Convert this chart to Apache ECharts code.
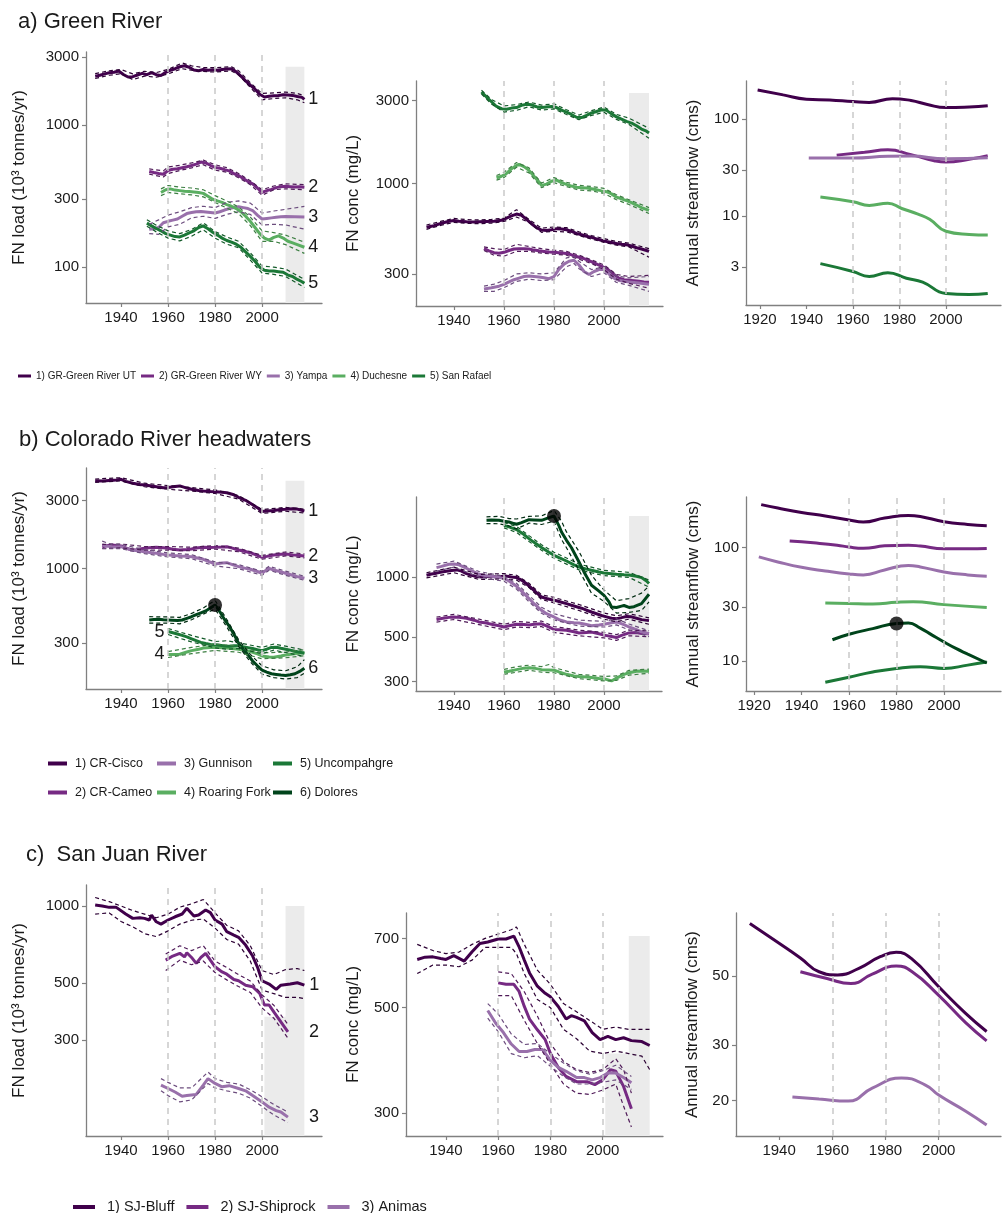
<!DOCTYPE html>
<html><head><meta charset="utf-8">
<script src="https://cdn.jsdelivr.net/npm/echarts@6/dist/echarts.min.js"></script>
<style>html,body{margin:0;padding:0;background:#fff}#c{width:1006px;height:1213px}</style>
</head><body><div id="c"></div>
<script>
// ---------------- tick labels / categories ----------------
const xTicks4 = [1940, 1960, 1980, 2000];
const xTicks5 = [1920, 1940, 1960, 1980, 2000];
const refYears = [1960, 1980, 2000];
const yTicksA1 = [100, 300, 1000, 3000];
const yTicksA2 = [300, 1000, 3000];
const yTicksA3 = [3, 10, 30, 100];
const yTicksB1 = [300, 1000, 3000];
const yTicksB2 = [300, 500, 1000];
const yTicksB3 = [10, 30, 100];
const yTicksC1 = [300, 500, 1000];
const yTicksC2 = [300, 500, 700];
const yTicksC3 = [20, 30, 50];
const namesA = ['1) GR-Green River UT', '2) GR-Green River WY', '3) Yampa', '4) Duchesne', '5) San Rafael'];
const namesB = ['1) CR-Cisco', '2) CR-Cameo', '3) Gunnison', '4) Roaring Fork', '5) Uncompahgre', '6) Dolores'];
const namesC = ['1) SJ-Bluff', '2) SJ-Shiprock', '3) Animas'];

// ---------------- a) Green River : load ----------------
const grUT_load = [[1929,2200],[1931,2230],[1933,2280],[1935,2320],[1937,2340],[1939,2390],[1941,2260],[1943,2170],[1945,2180],[1947,2240],[1949,2300],[1951,2250],[1953,2330],[1955,2250],[1957,2220],[1959,2340],[1961,2420],[1963,2480],[1965,2560],[1967,2600],[1969,2540],[1971,2430],[1973,2400],[1975,2450],[1977,2420],[1979,2440],[1981,2420],[1983,2450],[1985,2470],[1987,2480],[1989,2360],[1991,2200],[1993,2040],[1995,1900],[1997,1780],[1999,1640],[2001,1570],[2003,1590],[2005,1600],[2007,1610],[2009,1630],[2011,1620],[2013,1610],[2015,1580],[2017,1560],[2018,1510]];
const grUT_load_hi = [[1929,2290],[1935,2400],[1940,2450],[1945,2280],[1950,2380],[1955,2330],[1960,2450],[1966,2720],[1970,2600],[1975,2530],[1980,2520],[1987,2560],[1990,2400],[1995,1980],[2000,1660],[2005,1680],[2010,1700],[2015,1660],[2018,1600]];
const grUT_load_lo = [[1929,2120],[1935,2230],[1940,2290],[1945,2080],[1950,2200],[1955,2160],[1960,2280],[1966,2480],[1970,2420],[1975,2370],[1980,2350],[1987,2390],[1990,2250],[1995,1830],[2000,1500],[2005,1530],[2010,1550],[2015,1500],[2018,1430]];
const grWY_load = [[1952,470],[1954,462],[1956,455],[1958,450],[1960,478],[1962,488],[1964,492],[1966,500],[1968,508],[1970,518],[1972,530],[1974,548],[1976,540],[1978,520],[1980,502],[1982,495],[1984,485],[1986,475],[1988,455],[1990,440],[1992,420],[1994,400],[1996,385],[1998,360],[2000,335],[2002,345],[2004,352],[2006,362],[2008,368],[2010,370],[2012,368],[2014,366],[2016,368],[2018,365]];
const grWY_load_hi = [[1952,490],[1958,475],[1960,505],[1965,520],[1970,540],[1975,565],[1980,525],[1985,500],[1990,455],[1995,405],[2000,350],[2005,372],[2010,385],[2018,380]];
const grWY_load_lo = [[1952,450],[1958,430],[1960,455],[1965,478],[1970,498],[1975,525],[1980,480],[1985,465],[1990,425],[1995,380],[2000,320],[2005,350],[2010,355],[2018,350]];
const yampa_load = [[1952,185],[1954,186],[1956,190],[1958,205],[1960,210],[1962,214],[1964,218],[1966,228],[1968,238],[1970,242],[1972,245],[1974,246],[1976,244],[1978,242],[1980,240],[1982,245],[1984,252],[1986,258],[1988,262],[1990,266],[1992,262],[1994,258],[1996,250],[1998,232],[2000,218],[2002,220],[2004,222],[2006,224],[2008,226],[2010,227],[2014,226],[2018,225]];
const yampa_load_hi = [[1952,200],[1956,215],[1960,232],[1965,245],[1970,262],[1975,268],[1980,262],[1985,285],[1990,292],[1995,282],[2000,240],[2005,248],[2010,255],[2018,267]];
const yampa_load_lo = [[1952,172],[1956,170],[1960,192],[1965,200],[1970,222],[1975,228],[1980,220],[1985,235],[1990,245],[1995,235],[2000,198],[2005,200],[2010,198],[2018,185]];
const duchesne_load = [[1957,335],[1959,350],[1961,355],[1963,348],[1965,345],[1967,342],[1969,340],[1971,338],[1973,335],[1975,330],[1977,315],[1979,300],[1981,292],[1983,285],[1985,275],[1987,268],[1989,258],[1991,245],[1993,228],[1995,210],[1997,190],[1999,172],[2001,160],[2003,155],[2005,162],[2007,166],[2009,160],[2011,152],[2013,148],[2015,144],[2018,138]];
const duchesne_load_hi = [[1957,355],[1960,375],[1965,365],[1970,360],[1975,350],[1980,318],[1985,292],[1990,265],[1995,225],[2000,180],[2005,175],[2010,168],[2018,150]];
const duchesne_load_lo = [[1957,318],[1960,335],[1965,328],[1970,322],[1975,312],[1980,285],[1985,260],[1990,238],[1995,196],[2000,152],[2005,152],[2010,144],[2018,125]];
const sanRafael_load = [[1951,204],[1953,195],[1955,187],[1957,180],[1959,172],[1961,168],[1963,164],[1965,163],[1967,168],[1969,174],[1971,180],[1973,190],[1975,195],[1977,186],[1979,176],[1981,168],[1983,160],[1985,154],[1987,150],[1989,145],[1991,138],[1993,128],[1995,119],[1997,110],[1999,100],[2001,95],[2003,94],[2005,94],[2007,93],[2009,92],[2011,88],[2013,86],[2015,82],[2017,79],[2018,77]];
const sanRafael_load_hi = [[1951,215],[1955,197],[1960,180],[1965,172],[1970,184],[1975,205],[1980,178],[1985,163],[1990,152],[1995,126],[2000,102],[2005,100],[2010,97],[2018,82]];
const sanRafael_load_lo = [[1951,194],[1955,177],[1960,160],[1965,153],[1970,165],[1975,183],[1980,160],[1985,145],[1990,137],[1995,112],[2000,91],[2005,89],[2010,86],[2018,72]];

// ---------------- a) Green River : concentration ----------------
const grUT_conc = [[1929,558],[1932,570],[1935,589],[1938,605],[1940,611],[1942,605],[1945,600],[1948,598],[1950,600],[1953,603],[1956,605],[1959,612],[1961,630],[1963,650],[1965,665],[1967,655],[1969,620],[1971,585],[1973,555],[1975,538],[1977,535],[1979,540],[1981,548],[1983,545],[1985,540],[1987,528],[1989,515],[1991,505],[1993,495],[1995,488],[1997,478],[1999,470],[2001,462],[2003,456],[2005,450],[2007,445],[2009,442],[2011,435],[2013,425],[2015,418],[2017,410],[2018,405]];
const grUT_conc_hi = [[1929,575],[1935,605],[1940,628],[1945,618],[1950,615],[1955,620],[1960,630],[1965,705],[1970,620],[1975,552],[1980,560],[1985,555],[1990,525],[1995,500],[2000,480],[2005,462],[2010,452],[2018,420]];
const grUT_conc_lo = [[1929,543],[1935,574],[1940,596],[1945,588],[1950,585],[1955,590],[1960,603],[1965,640],[1970,595],[1975,522],[1980,528],[1985,525],[1990,500],[1995,477],[2000,457],[2005,440],[2010,430],[2018,375]];
const grWY_conc = [[1952,420],[1954,408],[1956,398],[1958,395],[1960,400],[1962,410],[1964,418],[1966,420],[1968,420],[1970,418],[1972,412],[1974,408],[1976,405],[1978,402],[1980,400],[1982,398],[1984,395],[1986,392],[1988,382],[1990,375],[1992,368],[1994,358],[1996,348],[1998,338],[2000,328],[2002,315],[2004,298],[2006,284],[2008,278],[2010,276],[2012,274],[2014,272],[2016,270],[2018,269]];
const grWY_conc_hi = [[1952,430],[1956,420],[1960,415],[1965,445],[1970,432],[1975,420],[1980,412],[1985,405],[1990,385],[1995,362],[2000,338],[2005,298],[2010,290],[2018,295]];
const grWY_conc_lo = [[1952,410],[1956,385],[1960,380],[1965,405],[1970,405],[1975,396],[1980,390],[1985,385],[1990,365],[1995,345],[2000,318],[2005,280],[2010,265],[2018,248]];
const yampa_conc = [[1952,246],[1955,250],[1958,255],[1960,261],[1962,270],[1964,278],[1966,284],[1968,290],[1970,292],[1972,290],[1974,288],[1976,285],[1978,282],[1980,290],[1982,320],[1984,342],[1986,355],[1988,360],[1990,338],[1992,310],[1994,298],[1996,310],[1998,318],[2000,318],[2002,300],[2004,284],[2006,275],[2008,272],[2010,270],[2014,266],[2018,262]];
const yampa_conc_hi = [[1952,255],[1956,262],[1960,275],[1965,300],[1970,305],[1975,300],[1980,305],[1985,372],[1988,378],[1990,355],[1995,318],[2000,330],[2005,292],[2010,285],[2018,290]];
const yampa_conc_lo = [[1952,238],[1956,238],[1960,250],[1965,272],[1970,280],[1975,275],[1980,278],[1985,330],[1988,345],[1990,322],[1995,290],[2000,305],[2005,268],[2010,258],[2018,238]];
const duchesne_conc = [[1957,1078],[1959,1100],[1961,1140],[1963,1216],[1965,1270],[1966,1288],[1968,1250],[1970,1189],[1972,1100],[1974,1020],[1975,974],[1977,990],[1979,1030],[1981,1045],[1983,1010],[1985,987],[1987,965],[1989,950],[1991,945],[1993,940],[1995,932],[1997,920],[1999,905],[2001,895],[2003,870],[2005,833],[2007,815],[2009,795],[2011,775],[2013,750],[2015,725],[2018,698]];
const duchesne_conc_hi = [[1957,1110],[1960,1160],[1965,1320],[1970,1230],[1975,1005],[1980,1080],[1985,1015],[1990,975],[1995,960],[2000,935],[2005,860],[2010,805],[2018,725]];
const duchesne_conc_lo = [[1957,1045],[1960,1080],[1965,1240],[1970,1150],[1975,945],[1980,1010],[1985,958],[1990,915],[1995,905],[2000,875],[2005,805],[2010,755],[2018,670]];
const sanRafael_conc = [[1951,3370],[1953,3150],[1955,2960],[1957,2780],[1959,2700],[1961,2680],[1963,2720],[1965,2740],[1967,2820],[1969,2860],[1971,2840],[1973,2770],[1975,2740],[1977,2760],[1979,2780],[1981,2740],[1983,2650],[1985,2580],[1987,2500],[1989,2410],[1991,2400],[1993,2470],[1995,2550],[1997,2600],[1999,2660],[2001,2640],[2003,2520],[2005,2420],[2007,2350],[2009,2280],[2011,2230],[2013,2150],[2015,2060],[2017,2000],[2018,1953]];
const sanRafael_conc_hi = [[1951,3450],[1955,3050],[1960,2800],[1965,2850],[1970,2950],[1975,2830],[1980,2880],[1985,2660],[1990,2480],[1995,2630],[2000,2760],[2005,2500],[2010,2380],[2018,2080]];
const sanRafael_conc_lo = [[1951,3280],[1955,2870],[1960,2580],[1965,2640],[1970,2770],[1975,2650],[1980,2690],[1985,2500],[1990,2330],[1995,2470],[2000,2570],[2005,2340],[2010,2190],[2018,1820]];

// ---------------- a) Green River : streamflow ----------------
const grUT_flow = [[1919,199],[1930,177],[1940,160],[1950,157],[1960,151],[1967,148],[1977,162],[1985,155],[1992,141],[2000,131],[2010,133],[2018,137]];
const grWY_flow = [[1953,42.5],[1965,45.4],[1975,48.2],[1985,43],[1995,37.2],[2000,36],[2010,38.5],[2018,42]];
const yampa_flow = [[1941,39.6],[1960,39.6],[1975,41.3],[1985,41.5],[2000,39],[2018,40]];
const duchesne_flow = [[1946,15.8],[1960,14.1],[1967,12.9],[1975,13.6],[1981,12],[1988,10.5],[1993,9.3],[2000,7.0],[2010,6.5],[2018,6.4]];
const sanRafael_flow = [[1946,3.25],[1960,2.7],[1967,2.4],[1975,2.62],[1983,2.3],[1990,2.1],[2000,1.6],[2010,1.56],[2018,1.6]];

// ---------------- b) Colorado River headwaters : load ----------------
const cisco_load = [[1929,4150],[1932,4120],[1935,4160],[1938,4200],[1940,4240],[1942,4100],[1945,3980],[1948,3900],[1950,3870],[1953,3800],[1955,3760],[1958,3700],[1960,3720],[1963,3780],[1965,3810],[1968,3680],[1970,3610],[1973,3540],[1975,3510],[1978,3480],[1980,3470],[1983,3440],[1985,3410],[1988,3300],[1990,3170],[1993,3020],[1995,2880],[1998,2680],[2000,2520],[2002,2540],[2005,2560],[2008,2600],[2010,2610],[2013,2630],[2015,2620],[2018,2540]];
const cisco_load_hi = [[1929,4260],[1940,4350],[1950,3980],[1960,3830],[1970,3710],[1980,3570],[1990,3260],[2000,2600],[2010,2690],[2018,2620]];
const cisco_load_lo = [[1929,4040],[1940,4130],[1950,3760],[1960,3610],[1970,3510],[1980,3370],[1990,3080],[2000,2440],[2010,2530],[2018,2460]];
const cameo_load = [[1932,1427],[1934,1450],[1936,1467],[1938,1455],[1940,1443],[1942,1400],[1944,1360],[1946,1350],[1948,1375],[1950,1390],[1952,1400],[1955,1413],[1958,1400],[1960,1390],[1962,1370],[1965,1353],[1968,1365],[1970,1374],[1972,1395],[1975,1413],[1978,1410],[1980,1413],[1983,1420],[1985,1427],[1987,1400],[1990,1353],[1992,1330],[1995,1295],[1998,1240],[2000,1202],[2002,1220],[2005,1248],[2008,1262],[2010,1268],[2013,1250],[2015,1240],[2018,1228]];
const cameo_load_hi = [[1932,1480],[1940,1490],[1950,1430],[1960,1430],[1970,1415],[1980,1455],[1990,1395],[2000,1240],[2010,1310],[2018,1270]];
const cameo_load_lo = [[1932,1380],[1940,1400],[1950,1350],[1960,1350],[1970,1335],[1980,1372],[1990,1315],[2000,1165],[2010,1230],[2018,1190]];
const gunnison_load = [[1932,1467],[1934,1440],[1936,1427],[1938,1420],[1940,1427],[1942,1390],[1945,1353],[1948,1330],[1950,1316],[1953,1295],[1955,1282],[1958,1260],[1960,1248],[1963,1235],[1965,1228],[1968,1220],[1970,1214],[1973,1185],[1975,1164],[1978,1110],[1980,1079],[1983,1095],[1985,1102],[1988,1060],[1990,1033],[1993,1005],[1995,990],[1998,955],[2000,928],[2002,985],[2003,1006],[2005,979],[2008,950],[2010,928],[2013,900],[2015,880],[2018,856]];
const gunnison_load_hi = [[1932,1560],[1936,1480],[1940,1480],[1950,1360],[1960,1290],[1970,1255],[1980,1115],[1990,1068],[2000,960],[2003,1040],[2010,960],[2018,885]];
const gunnison_load_lo = [[1932,1390],[1936,1380],[1940,1380],[1950,1275],[1960,1208],[1970,1175],[1980,1045],[1990,1000],[2000,898],[2003,975],[2010,898],[2018,828]];
const roaringFork_load = [[1960,250],[1963,250],[1965,251],[1968,260],[1970,266],[1973,272],[1975,277],[1978,280],[1980,281],[1983,279],[1985,277],[1988,274],[1990,272],[1993,266],[1995,262],[1998,252],[2000,244],[2003,240],[2005,239],[2008,244],[2010,248],[2013,252],[2015,255],[2018,257]];
const roaringFork_load_hi = [[1960,262],[1970,280],[1980,296],[1990,286],[2000,256],[2010,260],[2018,270]];
const roaringFork_load_lo = [[1960,238],[1970,253],[1980,267],[1990,259],[2000,233],[2010,237],[2018,245]];
const uncompahgre_load = [[1960,362],[1962,355],[1964,348],[1966,340],[1968,332],[1970,322],[1972,312],[1974,304],[1976,298],[1978,294],[1980,292],[1982,290],[1984,287],[1986,285],[1988,288],[1990,288],[1992,283],[1994,279],[1996,275],[1998,270],[2000,266],[2002,272],[2004,280],[2006,281],[2008,276],[2010,272],[2012,268],[2014,263],[2016,259],[2018,255]];
const uncompahgre_load_hi = [[1960,380],[1970,340],[1980,308],[1985,312],[1990,302],[2000,280],[2005,296],[2010,286],[2018,268]];
const uncompahgre_load_lo = [[1960,345],[1970,306],[1980,278],[1985,272],[1990,275],[2000,253],[2005,268],[2010,258],[2018,242]];
const dolores_load = [[1952,436],[1954,440],[1956,441],[1958,438],[1960,436],[1962,434],[1964,432],[1966,436],[1968,448],[1970,460],[1972,475],[1974,490],[1976,505],[1978,530],[1980,556],[1982,500],[1984,440],[1986,395],[1988,348],[1990,300],[1992,272],[1994,248],[1996,225],[1998,208],[2000,194],[2002,188],[2004,183],[2006,181],[2008,179],[2010,178],[2012,180],[2014,183],[2016,190],[2018,200]];
const dolores_load_hi = [[1952,460],[1960,458],[1965,455],[1970,485],[1975,530],[1980,600],[1985,440],[1990,318],[1995,250],[2000,208],[2005,195],[2010,192],[2015,205],[2018,230]];
const dolores_load_lo = [[1952,415],[1960,415],[1965,410],[1970,438],[1975,480],[1980,520],[1985,390],[1990,285],[1995,222],[2000,182],[2005,172],[2010,168],[2015,172],[2018,185]];
const dolores_peak_load = [[1980,556]];

// ---------------- b) Colorado River headwaters : concentration ----------------
const cisco_conc = [[1929,1020],[1931,1035],[1933,1045],[1935,1059],[1937,1068],[1939,1078],[1941,1085],[1943,1070],[1945,1040],[1947,1020],[1949,1005],[1951,1000],[1953,1005],[1955,1008],[1957,1000],[1959,1005],[1961,1010],[1963,1000],[1965,993],[1967,965],[1969,925],[1971,880],[1973,835],[1975,794],[1977,780],[1979,770],[1981,760],[1983,748],[1985,736],[1987,722],[1989,710],[1991,698],[1993,682],[1995,668],[1997,655],[1999,642],[2001,632],[2003,622],[2005,619],[2007,626],[2009,634],[2011,632],[2013,622],[2015,612],[2018,605]];
const cisco_conc_hi = [[1929,1050],[1940,1120],[1950,1030],[1960,1040],[1965,1020],[1970,930],[1975,815],[1980,790],[1990,728],[2000,660],[2005,640],[2010,655],[2018,625]];
const cisco_conc_lo = [[1929,990],[1940,1050],[1950,972],[1960,978],[1965,965],[1970,885],[1975,772],[1980,742],[1990,680],[2000,615],[2005,598],[2010,615],[2018,580]];
const cameo_conc = [[1933,612],[1935,620],[1938,628],[1940,631],[1942,628],[1945,622],[1948,608],[1950,596],[1953,588],[1955,580],[1958,570],[1960,562],[1962,570],[1965,580],[1968,578],[1970,575],[1972,580],[1975,583],[1977,570],[1980,546],[1982,545],[1985,541],[1988,532],[1990,525],[1993,528],[1995,530],[1998,520],[2000,512],[2003,504],[2005,498],[2007,510],[2010,525],[2013,528],[2015,522],[2018,520]];
const cameo_conc_hi = [[1933,630],[1940,650],[1950,615],[1960,580],[1965,600],[1970,593],[1975,602],[1980,565],[1990,542],[2000,528],[2005,515],[2010,542],[2018,538]];
const cameo_conc_lo = [[1933,595],[1940,613],[1950,578],[1960,545],[1965,562],[1970,558],[1975,565],[1980,528],[1990,508],[2000,496],[2005,482],[2010,508],[2018,503]];
const gunnison_conc = [[1933,1114],[1935,1130],[1938,1157],[1940,1160],[1942,1150],[1944,1120],[1946,1090],[1948,1060],[1950,1031],[1953,1015],[1955,1008],[1958,995],[1960,981],[1962,955],[1965,899],[1967,850],[1970,780],[1972,735],[1975,681],[1977,655],[1980,631],[1982,612],[1985,596],[1988,590],[1990,588],[1993,578],[1995,571],[1998,575],[2000,580],[2003,590],[2005,596],[2008,578],[2010,562],[2013,545],[2015,532],[2018,520]];
const gunnison_conc_hi = [[1933,1160],[1940,1200],[1950,1065],[1960,1010],[1965,930],[1970,810],[1975,705],[1980,655],[1990,608],[2000,600],[2005,618],[2010,582],[2018,538]];
const gunnison_conc_lo = [[1933,1070],[1940,1120],[1950,1000],[1960,952],[1965,870],[1970,752],[1975,658],[1980,610],[1990,568],[2000,562],[2005,576],[2010,543],[2018,503]];
const roaringFork_conc = [[1960,335],[1962,338],[1965,344],[1968,350],[1970,352],[1972,350],[1975,344],[1978,343],[1980,342],[1982,335],[1985,326],[1988,320],[1990,318],[1993,316],[1995,314],[1998,311],[2000,310],[2002,305],[2003,302],[2005,312],[2008,326],[2010,332],[2013,338],[2015,339],[2018,338]];
const roaringFork_conc_hi = [[1960,345],[1965,356],[1970,362],[1975,356],[1978,365],[1980,352],[1990,326],[2000,318],[2005,320],[2010,341],[2018,346]];
const roaringFork_conc_lo = [[1960,326],[1965,334],[1970,342],[1975,334],[1980,332],[1990,310],[2000,302],[2005,304],[2010,323],[2018,330]];
const uncompahgre_conc = [[1960,1812],[1962,1780],[1965,1726],[1968,1630],[1970,1555],[1972,1490],[1975,1403],[1978,1330],[1980,1284],[1982,1250],[1985,1202],[1988,1150],[1990,1122],[1993,1095],[1995,1080],[1998,1060],[2000,1047],[2003,1038],[2005,1031],[2008,1026],[2010,1024],[2013,1008],[2015,993],[2017,955],[2018,927]];
const uncompahgre_conc_hi = [[1960,1870],[1965,1790],[1970,1610],[1975,1450],[1980,1330],[1985,1245],[1990,1160],[2000,1080],[2010,1055],[2018,965]];
const uncompahgre_conc_lo = [[1960,1760],[1965,1670],[1970,1505],[1975,1360],[1980,1240],[1985,1160],[1990,1085],[2000,1015],[2010,995],[2018,890]];
const dolores_conc = [[1953,1921],[1955,1925],[1958,1921],[1960,1900],[1962,1883],[1964,1850],[1965,1835],[1967,1870],[1970,1935],[1972,1930],[1975,1921],[1978,1982],[1980,2017],[1982,1800],[1983,1679],[1985,1525],[1987,1400],[1990,1189],[1992,1060],[1995,909],[1998,850],[2000,810],[2002,750],[2003,708],[2005,704],[2007,715],[2008,720],[2010,704],[2012,710],[2015,736],[2018,820]];
const dolores_conc_hi = [[1953,2000],[1958,2010],[1962,1960],[1965,1950],[1970,2010],[1975,2020],[1980,2150],[1983,1900],[1985,1680],[1990,1340],[1995,1020],[2000,860],[2005,760],[2010,780],[2015,830],[2018,900]];
const dolores_conc_lo = [[1953,1850],[1958,1845],[1962,1800],[1965,1740],[1970,1860],[1975,1830],[1980,1900],[1983,1540],[1985,1400],[1990,1080],[1995,830],[2000,755],[2005,660],[2010,665],[2015,680],[2018,750]];
const dolores_peak_conc = [[1980,2017]];

// ---------------- b) Colorado River headwaters : streamflow ----------------
const cisco_flow = [[1923,239],[1930,223],[1940,204],[1950,190],[1960,175],[1966,168],[1975,182],[1985,192],[1990,188],[2000,169],[2010,160],[2018,156]];
const cameo_flow = [[1935,114],[1945,110],[1955,105],[1960,101],[1966,98.5],[1975,103.5],[1985,105],[1990,103],[2000,97.5],[2010,97.5],[2018,98]];
const gunnison_flow = [[1922,82.7],[1930,74.7],[1940,67],[1950,62.2],[1960,58.5],[1966,57.4],[1975,63.5],[1985,69.5],[1990,67.5],[2000,61],[2010,57.4],[2018,55.9]];
const roaringFork_flow = [[1950,32.5],[1960,32.1],[1970,31.8],[1980,32.9],[1987,33.3],[2000,31.4],[2018,29.6]];
const uncompahgre_flow = [[1950,6.5],[1960,7.2],[1970,8.0],[1980,8.6],[1990,8.9],[2000,8.6],[2010,9.2],[2018,9.8]];
const dolores_flow = [[1953,15.4],[1960,17.2],[1970,19.3],[1980,21.4],[1985,21.6],[1990,19.5],[1995,16.9],[2000,14.7],[2005,12.9],[2010,11.5],[2018,9.6]];
const dolores_peak_flow = [[1980,21.4]];

// ---------------- c) San Juan River : load ----------------
const bluff_load = [[1929,1009],[1932,1000],[1935,988],[1938,988],[1942,931],[1945,895],[1948,900],[1950,895],[1952,882],[1953,922],[1955,868],[1957,850],[1960,882],[1963,908],[1966,931],[1968,980],[1971,914],[1973,922],[1976,965],[1978,942],[1980,882],[1983,850],[1985,794],[1988,770],[1990,755],[1993,704],[1996,638],[1998,579],[2000,511],[2003,496],[2006,473],[2008,491],[2012,496],[2015,502],[2018,491]];
const bluff_load_hi = [[1929,1080],[1935,1040],[1940,1000],[1945,960],[1950,930],[1955,900],[1960,930],[1965,990],[1970,1020],[1975,1060],[1980,940],[1985,840],[1990,800],[1995,700],[2000,560],[2005,540],[2010,565],[2015,570],[2018,560]];
const bluff_load_lo = [[1929,930],[1935,940],[1940,870],[1945,830],[1950,780],[1955,760],[1960,800],[1965,850],[1970,880],[1975,890],[1980,820],[1985,740],[1990,710],[1995,610],[2000,470],[2005,455],[2010,440],[2015,440],[2018,435]];
const shiprock_load = [[1959,615],[1962,638],[1965,654],[1967,633],[1968,657],[1970,630],[1972,597],[1974,630],[1976,654],[1978,615],[1980,579],[1983,553],[1985,542],[1988,517],[1990,511],[1993,491],[1996,484],[1999,456],[2001,411],[2003,411],[2005,386],[2008,353],[2011,323]];
const shiprock_load_hi = [[1959,650],[1965,700],[1970,670],[1975,700],[1980,610],[1985,575],[1990,540],[1995,510],[2000,450],[2005,410],[2011,345]];
const shiprock_load_lo = [[1959,560],[1965,615],[1970,590],[1975,610],[1980,550],[1985,515],[1990,485],[1995,460],[2000,400],[2005,365],[2011,305]];
const animas_load = [[1957,200],[1960,194],[1963,188],[1966,181],[1968,182],[1972,184],[1975,200],[1977,212],[1980,203],[1983,197],[1986,199],[1990,194],[1993,190],[1996,182],[2000,172],[2003,164],[2006,159],[2008,157],[2011,150]];
const animas_load_hi = [[1957,212],[1960,205],[1965,195],[1970,195],[1977,225],[1980,212],[1985,205],[1990,202],[1995,192],[2000,180],[2005,168],[2011,157]];
const animas_load_lo = [[1957,190],[1960,182],[1965,172],[1970,175],[1977,203],[1980,195],[1985,190],[1990,186],[1995,178],[2000,165],[2005,153],[2011,143]];

// ---------------- c) San Juan River : concentration ----------------
const bluff_conc = [[1929,632],[1932,639],[1935,640],[1938,635],[1940,632],[1943,644],[1947,627],[1950,656],[1953,683],[1956,688],[1960,698],[1963,698],[1966,708],[1968,672],[1970,630],[1972,592],[1975,555],[1978,536],[1980,527],[1983,503],[1986,473],[1988,481],[1990,477],[1993,469],[1996,443],[1999,428],[2002,435],[2005,428],[2008,432],[2011,426],[2015,424],[2018,416]];
const bluff_conc_hi = [[1929,680],[1935,660],[1940,650],[1945,655],[1950,680],[1955,700],[1960,715],[1965,730],[1967,740],[1970,680],[1975,600],[1980,560],[1985,510],[1990,490],[1995,470],[2000,450],[2005,455],[2010,450],[2015,450],[2018,450]];
const bluff_conc_lo = [[1929,590],[1935,615],[1940,615],[1945,610],[1950,630],[1955,670],[1960,670],[1965,670],[1967,650],[1970,590],[1975,520],[1980,500],[1985,450],[1990,430],[1995,405],[2000,400],[2005,405],[2010,400],[2015,395],[2018,370]];
const shiprock_conc = [[1960,564],[1963,560],[1966,560],[1968,541],[1970,503],[1972,473],[1975,449],[1978,428],[1980,400],[1983,374],[1986,358],[1990,349],[1994,349],[1997,344],[2000,352],[2003,370],[2005,367],[2008,341],[2011,306]];
const shiprock_conc_hi = [[1960,595],[1965,590],[1970,540],[1975,480],[1980,420],[1985,385],[1990,370],[1995,365],[2000,370],[2005,390],[2008,370],[2011,330]];
const shiprock_conc_lo = [[1960,530],[1965,530],[1970,470],[1975,420],[1980,380],[1985,345],[1990,330],[1995,328],[2000,335],[2005,345],[2008,310],[2011,280]];
const animas_conc = [[1956,493],[1959,464],[1962,443],[1965,419],[1968,404],[1971,404],[1974,408],[1977,408],[1980,387],[1983,374],[1986,367],[1990,356],[1993,356],[1996,352],[1999,356],[2002,364],[2005,364],[2008,356],[2011,347]];
const animas_conc_hi = [[1956,510],[1960,485],[1965,440],[1970,418],[1975,420],[1980,400],[1985,382],[1990,368],[1995,362],[2000,368],[2005,378],[2011,358]];
const animas_conc_lo = [[1956,475],[1960,445],[1965,400],[1970,392],[1975,396],[1980,376],[1985,358],[1990,345],[1995,345],[2000,348],[2005,352],[2011,336]];

// ---------------- c) San Juan River : streamflow ----------------
const bluff_flow = [[1929,73.4],[1940,63.5],[1948,57],[1955,51.5],[1962,50.3],[1970,52.8],[1978,57.5],[1984,59.4],[1990,56.5],[2000,46.1],[2010,38],[2018,33.2]];
const shiprock_flow = [[1948,51.5],[1958,49],[1967,47.2],[1975,50.6],[1984,53.7],[1990,51.5],[2000,43.3],[2010,35.5],[2018,31]];
const animas_flow = [[1945,20.5],[1955,20.2],[1966,19.9],[1975,21.9],[1986,23.6],[1995,22.4],[2000,20.8],[2010,18.5],[2018,16.7]];

// ---------------- styles ----------------
const FONT = "'Liberation Sans', Arial, Helvetica, sans-serif";
const COL = { c1: '#40004b', c2: '#762a83', c3: '#9970ab', c4: '#5aae61', c5: '#1b7837', c6: '#00441b' };
const BAND = { c1: '#2b0033', c2: '#4f1a58', c3: '#6c4d7e', c4: '#3d7f43', c5: '#135a29', c6: '#002b11' };
const TXT = '#1a1a1a', AXC = '#808080';
const NAME_LOAD = 'FN load (10\u00B3 tonnes/yr)', NAME_CONC = 'FN conc (mg/L)', NAME_FLOW = 'Annual streamflow (cms)';

// panel layout (pixel boxes, axis ranges)
const layout = {
  a1: { g: [86, 52, 236, 251], x: [1925.1, 2025.5], y: [56, 3250], yt: yTicksA1, xt: xTicks4, yn: NAME_LOAD, gap: 58, rects: [[2010, 2018, 2560]] },
  a2: { g: [416, 81, 247, 225], x: [1924.8, 2023.6], y: [196, 3900], yt: yTicksA2, xt: xTicks4, yn: NAME_CONC, gap: 54, rects: [[2010, 2018, 3330]] },
  a3: { g: [746, 81, 255, 224], x: [1914, 2023.7], y: [1.22, 246], yt: yTicksA3, xt: xTicks5, yn: NAME_FLOW, gap: 44, rects: [] },
  b1: { g: [86, 468, 236, 221], x: [1925.1, 2025.5], y: [143, 5090], yt: yTicksB1, xt: xTicks4, yn: NAME_LOAD, gap: 58, rects: [[2010, 2018, 4150]] },
  b2: { g: [416, 497, 246, 194], x: [1924.8, 2023.2], y: [269, 2512], yt: yTicksB2, xt: xTicks4, yn: NAME_CONC, gap: 54, rects: [[2010, 2018, 2017]] },
  b3: { g: [746, 497, 255, 194], x: [1916.6, 2024], y: [5.44, 279], yt: yTicksB3, xt: xTicks5, yn: NAME_FLOW, gap: 44, rects: [] },
  c1: { g: [86, 885, 236, 251], x: [1925.1, 2025.5], y: [126.6, 1208], yt: yTicksC1, xt: xTicks4, yn: NAME_LOAD, gap: 58, rects: [[2001, 2011, 370], [2010, 2018, 1000]] },
  c2: { g: [406, 913, 257, 223], x: [1924.7, 2023.1], y: [268, 792], yt: yTicksC2, xt: xTicks4, yn: NAME_CONC, gap: 44, rects: [[2001, 2011, 400], [2010, 2018, 708]] },
  c3: { g: [736, 913, 265, 223], x: [1923.8, 2023.4], y: [15.4, 79.3], yt: yTicksC3, xt: xTicks4, yn: NAME_FLOW, gap: 35, rects: [] }
};

const panelSeries = {
  a1: [
    { n: namesA[0], d: grUT_load, hi: grUT_load_hi, lo: grUT_load_lo, c: 'c1', end: '1' },
    { n: namesA[1], d: grWY_load, hi: grWY_load_hi, lo: grWY_load_lo, c: 'c2', end: '2' },
    { n: namesA[2], d: yampa_load, hi: yampa_load_hi, lo: yampa_load_lo, c: 'c3', end: '3' },
    { n: namesA[3], d: duchesne_load, hi: duchesne_load_hi, lo: duchesne_load_lo, c: 'c4', end: '4' },
    { n: namesA[4], d: sanRafael_load, hi: sanRafael_load_hi, lo: sanRafael_load_lo, c: 'c5', end: '5' }
  ],
  a2: [
    { n: namesA[0], d: grUT_conc, hi: grUT_conc_hi, lo: grUT_conc_lo, c: 'c1' },
    { n: namesA[1], d: grWY_conc, hi: grWY_conc_hi, lo: grWY_conc_lo, c: 'c2' },
    { n: namesA[2], d: yampa_conc, hi: yampa_conc_hi, lo: yampa_conc_lo, c: 'c3' },
    { n: namesA[3], d: duchesne_conc, hi: duchesne_conc_hi, lo: duchesne_conc_lo, c: 'c4' },
    { n: namesA[4], d: sanRafael_conc, hi: sanRafael_conc_hi, lo: sanRafael_conc_lo, c: 'c5' }
  ],
  a3: [
    { n: namesA[0], d: grUT_flow, c: 'c1', smooth: true },
    { n: namesA[1], d: grWY_flow, c: 'c2', smooth: true },
    { n: namesA[2], d: yampa_flow, c: 'c3', smooth: true },
    { n: namesA[3], d: duchesne_flow, c: 'c4', smooth: true },
    { n: namesA[4], d: sanRafael_flow, c: 'c5', smooth: true }
  ],
  b1: [
    { n: namesB[0], d: cisco_load, hi: cisco_load_hi, lo: cisco_load_lo, c: 'c1', end: '1' },
    { n: namesB[1], d: cameo_load, hi: cameo_load_hi, lo: cameo_load_lo, c: 'c2', end: '2' },
    { n: namesB[2], d: gunnison_load, hi: gunnison_load_hi, lo: gunnison_load_lo, c: 'c3', end: '3' },
    { n: namesB[3], d: roaringFork_load, hi: roaringFork_load_hi, lo: roaringFork_load_lo, c: 'c4', start: '4' },
    { n: namesB[4], d: uncompahgre_load, hi: uncompahgre_load_hi, lo: uncompahgre_load_lo, c: 'c5', start: '5' },
    { n: namesB[5], d: dolores_load, hi: dolores_load_hi, lo: dolores_load_lo, c: 'c6', end: '6', peak: dolores_peak_load }
  ],
  b2: [
    { n: namesB[0], d: cisco_conc, hi: cisco_conc_hi, lo: cisco_conc_lo, c: 'c1' },
    { n: namesB[1], d: cameo_conc, hi: cameo_conc_hi, lo: cameo_conc_lo, c: 'c2' },
    { n: namesB[2], d: gunnison_conc, hi: gunnison_conc_hi, lo: gunnison_conc_lo, c: 'c3' },
    { n: namesB[3], d: roaringFork_conc, hi: roaringFork_conc_hi, lo: roaringFork_conc_lo, c: 'c4' },
    { n: namesB[4], d: uncompahgre_conc, hi: uncompahgre_conc_hi, lo: uncompahgre_conc_lo, c: 'c5' },
    { n: namesB[5], d: dolores_conc, hi: dolores_conc_hi, lo: dolores_conc_lo, c: 'c6', peak: dolores_peak_conc }
  ],
  b3: [
    { n: namesB[0], d: cisco_flow, c: 'c1', smooth: true },
    { n: namesB[1], d: cameo_flow, c: 'c2', smooth: true },
    { n: namesB[2], d: gunnison_flow, c: 'c3', smooth: true },
    { n: namesB[3], d: roaringFork_flow, c: 'c4', smooth: true },
    { n: namesB[4], d: uncompahgre_flow, c: 'c5', smooth: true },
    { n: namesB[5], d: dolores_flow, c: 'c6', smooth: true, peak: dolores_peak_flow }
  ],
  c1: [
    { n: namesC[0], d: bluff_load, hi: bluff_load_hi, lo: bluff_load_lo, c: 'c1', end: '1', endDist: 5 },
    { n: namesC[1], d: shiprock_load, hi: shiprock_load_hi, lo: shiprock_load_lo, c: 'c2', end: '2', endDist: 21 },
    { n: namesC[2], d: animas_load, hi: animas_load_hi, lo: animas_load_lo, c: 'c3', end: '3', endDist: 21 }
  ],
  c2: [
    { n: namesC[0], d: bluff_conc, hi: bluff_conc_hi, lo: bluff_conc_lo, c: 'c1' },
    { n: namesC[1], d: shiprock_conc, hi: shiprock_conc_hi, lo: shiprock_conc_lo, c: 'c2' },
    { n: namesC[2], d: animas_conc, hi: animas_conc_hi, lo: animas_conc_lo, c: 'c3' }
  ],
  c3: [
    { n: namesC[0], d: bluff_flow, c: 'c1', smooth: true },
    { n: namesC[1], d: shiprock_flow, c: 'c2', smooth: true },
    { n: namesC[2], d: animas_flow, c: 'c3', smooth: true }
  ]
};

function fmtNum(v) {
  const r = Math.round(v);
  return Math.abs(v - r) < 0.01 ? String(r) : String(+v.toFixed(2));
}

const grids = [], xAxes = [], yAxes = [], series = [];
Object.keys(layout).forEach(function (k, i) {
  const L = layout[k];
  grids.push({ left: L.g[0], top: L.g[1], width: L.g[2], height: L.g[3], containLabel: false, outerBoundsMode: 'none' });
  xAxes.push({
    gridIndex: i, type: 'value', min: L.x[0], max: L.x[1],
    axisLine: { show: true, onZero: false, lineStyle: { color: AXC, width: 1.3 } },
    axisTick: { show: true, length: 4, customValues: L.xt, lineStyle: { color: AXC, width: 1.2 } },
    axisLabel: { customValues: L.xt, fontSize: 15, color: TXT, margin: 7, fontFamily: FONT, formatter: function (v) { return String(Math.round(v)); } },
    splitLine: { show: false }
  });
  yAxes.push({
    gridIndex: i, type: 'log', logBase: 10, min: L.y[0], max: L.y[1],
    name: L.yn, nameLocation: 'middle', nameGap: L.gap,
    nameTextStyle: { fontSize: 17, color: TXT, fontFamily: FONT },
    axisLine: { show: true, onZero: false, lineStyle: { color: AXC, width: 1.3 } },
    axisTick: { show: true, length: 4, customValues: L.yt, lineStyle: { color: AXC, width: 1.2 } },
    axisLabel: { customValues: L.yt, fontSize: 15, color: TXT, margin: 7, fontFamily: FONT, formatter: fmtNum },
    splitLine: { show: false }
  });
  // background: grey period rectangles + dashed reference years
  series.push({
    type: 'line', name: 'ref-' + k, data: [], xAxisIndex: i, yAxisIndex: i, silent: true, z: 1,
    markArea: {
      silent: true, itemStyle: { color: '#ebebeb' },
      data: L.rects.map(function (r) { return [{ xAxis: r[0], yAxis: L.y[0] }, { xAxis: r[1], yAxis: r[2] }]; })
    },
    markLine: {
      silent: true, symbol: ['none', 'none'], label: { show: false },
      lineStyle: { color: '#c9c9c9', type: [6, 5], width: 1.5 },
      data: refYears.map(function (yv) { return { xAxis: yv }; })
    }
  });
  panelSeries[k].forEach(function (s) {
    const main = {
      type: 'line', name: s.n, data: s.d, xAxisIndex: i, yAxisIndex: i,
      showSymbol: false, symbol: 'none', z: 3,
      lineStyle: { width: 3, color: COL[s.c] }, itemStyle: { color: COL[s.c] },
      emphasis: { disabled: true }
    };
    if (s.smooth) { main.smooth = 0.5; }
    if (s.end) {
      main.endLabel = { show: true, formatter: s.end, distance: s.endDist || 4, fontSize: 18, color: TXT, fontFamily: FONT };
    }
    if (s.start) {
      main.markPoint = {
        silent: true, symbol: 'circle', symbolSize: 1, itemStyle: { color: 'rgba(0,0,0,0)' },
        label: { show: true, position: 'left', distance: 3, formatter: s.start, fontSize: 18, color: TXT, fontFamily: FONT },
        data: [{ coord: s.d[0] }]
      };
    }
    series.push(main);
    if (s.hi) {
      [s.hi, s.lo].forEach(function (b, j) {
        series.push({
          type: 'line', name: s.n + (j ? ' lower' : ' upper'), data: b, xAxisIndex: i, yAxisIndex: i,
          showSymbol: false, symbol: 'none', silent: true, z: 4,
          lineStyle: { width: 1.2, type: [4, 3], color: BAND[s.c] }, emphasis: { disabled: true }
        });
      });
    }
    if (s.peak) {
      series.push({
        type: 'scatter', name: 'peak', data: s.peak, xAxisIndex: i, yAxisIndex: i,
        symbolSize: 14, itemStyle: { color: '#000' }, z: 6, silent: true
      });
    }
  });
});

const titleStyle = { fontSize: 22, fontWeight: 'normal', color: TXT, fontFamily: FONT };
const legendBase = { selectedMode: false, icon: 'rect' };

const option = {
  animation: false,
  backgroundColor: '#ffffff',
  textStyle: { fontFamily: FONT },
  title: [
    { text: 'a) Green River', left: 13, top: 6, textStyle: titleStyle },
    { text: 'b) Colorado River headwaters', left: 14, top: 424, textStyle: titleStyle },
    { text: 'c)  San Juan River', left: 21, top: 839, textStyle: titleStyle }
  ],
  legend: [
    Object.assign({}, legendBase, { data: namesA, orient: 'horizontal', left: 13, top: 363, itemWidth: 13, itemHeight: 3, itemGap: 5,
      textStyle: { fontSize: 10, color: TXT, fontFamily: FONT, lineHeight: 16 } }),
    Object.assign({}, legendBase, { data: namesB.slice(0, 2), orient: 'vertical', left: 43, top: 744, itemWidth: 19, itemHeight: 4, itemGap: 0,
      textStyle: { fontSize: 12.5, color: TXT, fontFamily: FONT, lineHeight: 29, padding: [0, 0, 0, 3] } }),
    Object.assign({}, legendBase, { data: namesB.slice(2, 4), orient: 'vertical', left: 152, top: 744, itemWidth: 19, itemHeight: 4, itemGap: 0,
      textStyle: { fontSize: 12.5, color: TXT, fontFamily: FONT, lineHeight: 29, padding: [0, 0, 0, 3] } }),
    Object.assign({}, legendBase, { data: namesB.slice(4, 6), orient: 'vertical', left: 268, top: 744, itemWidth: 19, itemHeight: 4, itemGap: 0,
      textStyle: { fontSize: 12.5, color: TXT, fontFamily: FONT, lineHeight: 29, padding: [0, 0, 0, 3] } }),
    Object.assign({}, legendBase, { data: namesC, orient: 'horizontal', left: 68, top: 1192, itemWidth: 22, itemHeight: 4, itemGap: 12,
      textStyle: { fontSize: 14.5, color: TXT, fontFamily: FONT, lineHeight: 20, padding: [0, 0, 0, 7] } })
  ],
  grid: grids,
  xAxis: xAxes,
  yAxis: yAxes,
  series: series
};

const chart = echarts.init(document.getElementById('c'), null, { renderer: 'canvas' });
chart.setOption(option);
</script>
</body></html>
